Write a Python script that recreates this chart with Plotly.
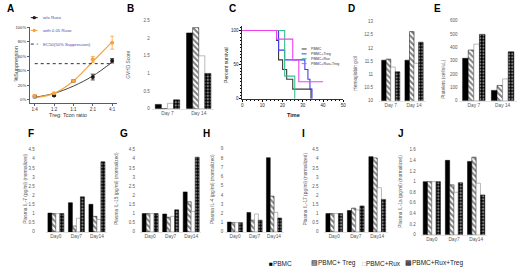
import plotly.graph_objects as go

W, H = 520, 274
FONT = "Liberation Sans, Arial, sans-serif"
GRAY = "#595959"

# ---------------- data ----------------
# Panel A
ratios = ["1:4", "1:2", "1:1", "2:1", "4:1"]
supp_no_rux = [4.5, 6, 26, 31.5, 54]
err_no_rux = [1.5, 1, 1.5, 4, 3]
supp_rux = [5.5, 9, 26, 56, 79]
err_rux = [2, 1, 1.5, 4, 9]
fit_no_rux = [3.5, 9, 19, 33, 52]
fit_rux = [3, 9, 26, 53, 80]
ec50_span = ["1:4", "4:1"]
ec50_level = [50, 50]

# Panel C (survival, step curves)
surv_groups = ["PBMC", "PBMC+Treg", "PBMC+Rux", "PBMC+Rux+Treg"]
t_pbmc = [0, 17, 18, 20, 22, 25, 34]
s_pbmc = [100, 85.7, 57.1, 42.9, 28.6, 14.3, 0]
t_treg = [0, 18, 21, 31, 32.5, 33.5, 34.5]
s_treg = [100, 71.4, 57.1, 42.9, 28.6, 14.3, 0]
t_rux = [0, 21, 26]
s_rux = [100, 33.3, 0]
t_rux_treg = [0, 17, 25, 28, 40]
s_rux_treg = [100, 87.5, 57.1, 25, 25]

# Bar panels: series order PBMC, PBMC+Treg, PBMC+Rux, PBMC+Rux+Treg
series = ["PBMC", "PBMC+ Treg", "PBMC+Rux", "PBMC+Rux+Treg"]
days_top = ["Day 7", "Day 14"]
days_bottom = ["Day0", "Day7", "Day14"]

gvhd_score = [[0.12, 2.15], [0, 2.3], [0.15, 1.5], [0.25, 1.0]]
hemoglobin = [[11.54, 11.54], [11.58, 12.62], [11.28, 11.42], [11.1, 12.22]]
platelets = [[318, 78], [380, 115], [424, 164], [497, 367]]
il7 = [[1.03, 1.6, 1.51], [1, 0.32, 0.85], [1, 0.75, 0.68], [1, 1.92, 3.84]]
il15 = [[1, 0.98, 2.19], [1, 0.8, 1.65], [1, 0.85, 1.12], [1, 1.21, 4.09]]
il4 = [[1.06, 2.1, 8.03], [1, 1.27, 3.87], [1, 1.94, 2.11], [1, 1.27, 1.5]]
il17 = [[1, 1.17, 4.12], [1, 1.3, 4.05], [1, 1.2, 2.42], [1, 1.42, 1.78]]
il1a = [[1, 1.4, 1.38], [1, 0.94, 1.46], [1, 0.8, 0.97], [1, 0.98, 0.75]]

# ---------------- helpers ----------------
def dx(a, b):
    return [a / W, b / W]

def dy(top, bottom):
    return [1 - bottom / H, 1 - top / H]

def px(x):
    return x / W

def py(y):
    return 1 - y / H

fig = go.Figure()
layout = dict(
    width=W, height=H, margin=dict(l=0, r=0, t=0, b=0),
    paper_bgcolor="white", plot_bgcolor="white",
    showlegend=False, barmode="group", bargap=0.22, bargroupgap=0,
    font=dict(family=FONT, size=5, color=GRAY),
)
annotations = []
shapes = []

def ann(text, x, y, size=5, color=GRAY, bold=False, angle=0, xanchor="center"):
    annotations.append(dict(
        text=("<b>%s</b>" % text) if bold else text, x=px(x), y=py(y),
        xref="paper", yref="paper", showarrow=False, textangle=angle,
        xanchor=xanchor, yanchor="middle",
        font=dict(family=FONT, size=size, color=color)))

# ---------------- Panel A ----------------
A_BLACK = "#1a1a1a"
A_ORANGE = "#F5A442"
fig.add_trace(go.Scatter(x=ratios, y=fit_no_rux, mode="lines", line=dict(color="#444", width=1, shape="spline"),
                         xaxis="x", yaxis="y"))
fig.add_trace(go.Scatter(x=ratios, y=fit_rux, mode="lines", line=dict(color=A_ORANGE, width=1.2, shape="spline"),
                         xaxis="x", yaxis="y"))
fig.add_trace(go.Scatter(x=ec50_span, y=ec50_level, mode="lines", line=dict(color="#2b2b4f", width=1, dash="dot"),
                         xaxis="x", yaxis="y"))
fig.add_trace(go.Scatter(x=ratios, y=supp_no_rux, mode="markers",
                         marker=dict(color=A_BLACK, size=4),
                         error_y=dict(type="data", array=err_no_rux, color=A_BLACK, thickness=0.8, width=2),
                         xaxis="x", yaxis="y"))
fig.add_trace(go.Scatter(x=ratios, y=supp_rux, mode="markers",
                         marker=dict(color=A_ORANGE, size=4),
                         error_y=dict(type="data", array=err_rux, color=A_ORANGE, thickness=0.8, width=2),
                         xaxis="x", yaxis="y"))
layout["xaxis"] = dict(domain=dx(29, 117), anchor="y", range=[-0.256, 4.256], type="category",
                       showline=True, linecolor="#333", linewidth=0.8, ticks="outside", ticklen=2,
                       tickcolor="#5555aa", tickfont=dict(size=4.5, color="#333"), showgrid=False, zeroline=False)
layout["yaxis"] = dict(domain=dy(25, 102), anchor="x", range=[-4, 100],
                       tickvals=[0, 20, 40, 60, 80, 100], ticktext=["0%", "20%", "40%", "60%", "80%", "100%"],
                       showline=True, linecolor="#333", linewidth=0.8, ticks="outside", ticklen=2,
                       tickcolor="#5555aa", tickfont=dict(size=4.2, color="#333"), showgrid=False, zeroline=False)
ann("%Suppression", 15, 62, size=5.5, color="#333", angle=-90)
ann("Treg: Tcon ratio", 68, 114, size=5.5, color="#333")
# legend A
LEG_TXT = "#4b4bb0"
for yy, col, dash, label in [(15, A_BLACK, None, "w/o Ruxo"),
                             (28, A_ORANGE, None, "with 0.05 Ruxo"),
                             (42, "#2b2b4f", "dot", "EC50(50% Suppression)")]:
    shapes.append(dict(type="line", xref="paper", yref="paper", x0=px(30), x1=px(37), y0=py(yy), y1=py(yy),
                       line=dict(color=col, width=1, dash=dash or "solid")))
    if dash is None:
        shapes.append(dict(type="circle", xref="paper", yref="paper", x0=px(31.8), x1=px(35.2),
                           y0=py(yy + 1.7), y1=py(yy - 1.7), fillcolor=col, line=dict(color=col, width=0)))
    ann(label, 40, yy, size=4.3, color=LEG_TXT, xanchor="left")

# ---------------- Panel C ----------------
surv_colors = ["#3a3a3a", "#3f3ff2", "#35c08f", "#f040f0"]
for t, s, c in zip([t_pbmc, t_treg, t_rux, t_rux_treg], [s_pbmc, s_treg, s_rux, s_rux_treg], surv_colors):
    fig.add_trace(go.Scatter(x=t, y=s, mode="lines", line=dict(color=c, width=1.1, shape="hv"),
                             xaxis="x3", yaxis="y3"))
layout["xaxis3"] = dict(domain=dx(243, 345), anchor="y3", range=[0, 50], dtick=10,
                        showline=True, linecolor="black", linewidth=0.8, ticks="outside", ticklen=2,
                        tickcolor="black", tickfont=dict(size=4.5, color="#222"),
                        minor=dict(ticks="outside", ticklen=1, dtick=2, tickcolor="black"),
                        showgrid=False, zeroline=False)
layout["yaxis3"] = dict(domain=dy(24, 98), anchor="x3", range=[0, 106], tickvals=[0, 50, 100],
                        showline=True, linecolor="black", linewidth=0.8, ticks="outside", ticklen=2,
                        tickcolor="black", tickfont=dict(size=4.5, color="#222"),
                        minor=dict(ticks="outside", ticklen=1, dtick=5, tickcolor="black"),
                        showgrid=False, zeroline=False)
ann("Percent survival", 226, 63, size=5, color="#222", angle=-90)
ann("Time", 295, 115, size=5.5, color="#222", bold=True)
for i, (g, c) in enumerate(zip(surv_groups, surv_colors)):
    yy = 47 + i * 5
    shapes.append(dict(type="line", xref="paper", yref="paper", x0=px(303), x1=px(308), y0=py(yy), y1=py(yy),
                       line=dict(color=c, width=1)))
    ann(g, 310, yy, size=3.6, color="#333", xanchor="left")

# ---------------- Bar panels ----------------
bar_styles = [
    dict(color="black", line=dict(color="black", width=0.5)),
    dict(color="white", line=dict(color="black", width=0.5),
         pattern=dict(shape="\\", fgcolor="black", bgcolor="white", size=4, solidity=0.5)),
    dict(color="white", line=dict(color="#8c8c8c", width=0.6)),
    dict(color="black", line=dict(color="black", width=0.5),
         pattern=dict(shape=".", fgcolor="white", bgcolor="black", size=3.2, solidity=0.4)),
]

bar_panels = [
    # idx, values, categories, x px, y px(top,bottom), range, dtick, title, title x, title y, standoff
    (2, gvhd_score, days_top, (152, 215), (18, 108), [0, 2.5], 0.5, "GVHD Score", 129, 63, 1),
    (4, hemoglobin, days_top, (381, 428), (19, 100), [10, 13], 0.5, "Hemoglobin g/dl", 357, 72, 5),
    (5, platelets, days_top, (462, 520), (18, 100), [0, 600], 100, "Platelets (cells/uL)", 446, 78, 1),
    (6, il7, days_bottom, (45, 107), (150, 234), [0, 4.5], 0.5, "Plasma IL-7 (pg/ml) (normalized)", 25, 190, 10),
    (7, il15, days_bottom, (140, 202), (150, 234), [0, 4.5], 0.5, "Plasma IL-15 (pg/ml) (normalized)", 117, 190, 4),
    (8, il4, days_bottom, (226, 285), (149, 234), [0, 9], 1, "Plasma IL-4 (pg/ml) (normalized)", 213, 190, 1),
    (9, il17, days_bottom, (325, 390), (150, 234), [0, 4.5], 0.5, "Plasma IL-17 (pg/ml) (normalized)", 307, 190, 4),
    (10, il1a, days_bottom, (423, 490), (150, 237), [0, 1.6], 0.2, "Plasma IL-1a (pg/ml) (normalized)", 403, 192, 4),
]

for idx, vals, cats, xd, yd, yr, dt, title, tx, ty, so in bar_panels:
    xa, ya = "x%d" % idx, "y%d" % idx
    for name, v, st in zip(series, vals, bar_styles):
        fig.add_trace(go.Bar(x=cats, y=v, name=name, marker=st, xaxis=xa, yaxis=ya))
    layout["xaxis%d" % idx] = dict(domain=dx(*xd), anchor=ya, type="category",
                                   showline=True, linecolor="#d9d9d9", linewidth=0.8, ticks="",
                                   tickfont=dict(size=4.8, color=GRAY), showgrid=False, zeroline=False)
    layout["yaxis%d" % idx] = dict(domain=dy(*yd), anchor=xa, range=yr, dtick=dt,
                                   showline=False, ticks="", showgrid=False, zeroline=False,
                                   tickfont=dict(size=4.5, color=GRAY), ticklabelstandoff=so)
    ann(title, tx, ty, size=4.8, color=GRAY, angle=-90)

# ---------------- Panel letters ----------------
for letter, x, y in [("A", 10, 6), ("B", 130, 6), ("C", 233, 6), ("D", 353, 6), ("E", 440, 6),
                     ("F", 30, 133), ("G", 124, 133), ("H", 207, 133), ("I", 305, 133), ("J", 403, 133)]:
    ann(letter, x, y, size=10, color="black", bold=True)

# ---------------- Bottom legend ----------------
for glyph, gcol, label, x in [("■", "black", "PBMC", 268), ("▧", "black", "PBMC+ Treg", 310),
                              ("□", "#aaaaaa", "PBMC+Rux", 362), ("▩", "black", "PBMC+Rux+Treg", 405)]:
    annotations.append(dict(text="<span style='color:%s'>%s</span>%s" % (gcol, glyph, label),
                            x=px(x), y=py(266), xref="paper", yref="paper", showarrow=False,
                            xanchor="left", yanchor="middle", font=dict(family=FONT, size=6.5, color="#222")))

layout["annotations"] = annotations
layout["shapes"] = shapes
fig.update_layout(**layout)
fig.write_html("out.html", config={"displayModeBar": False, "staticPlot": True},
               post_script="document.body.style.margin='0px';document.body.style.overflow='hidden';")
